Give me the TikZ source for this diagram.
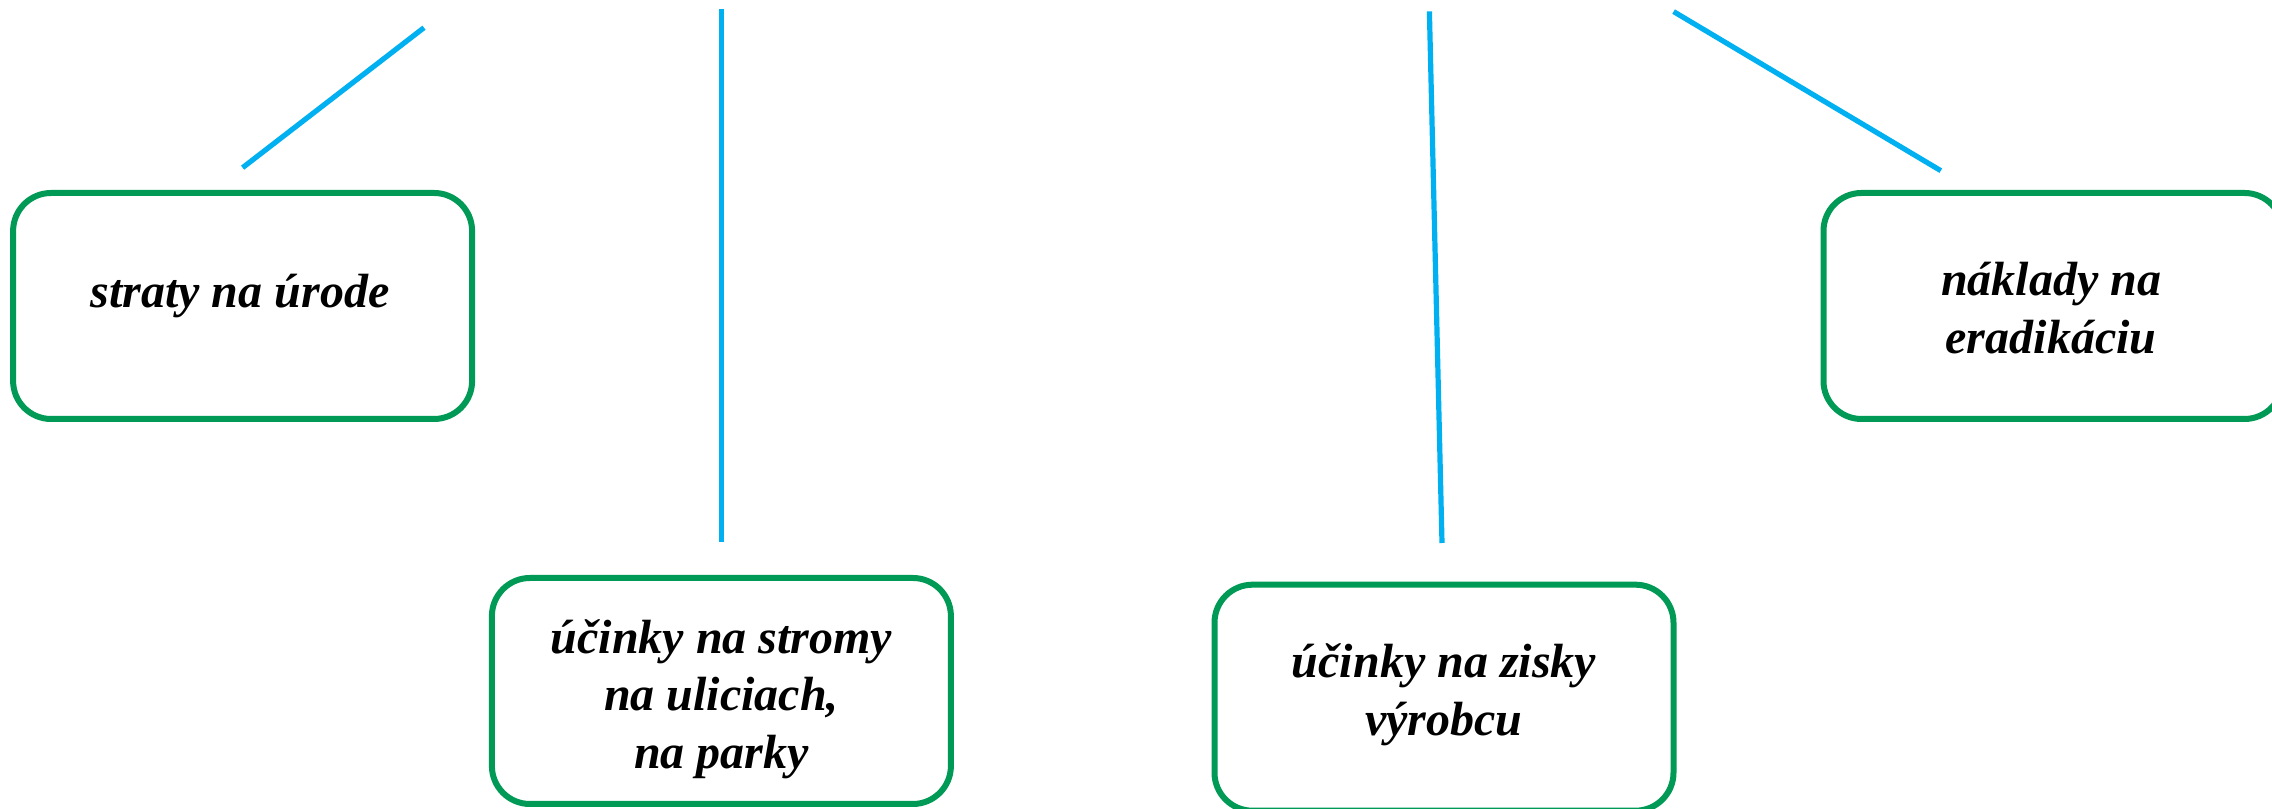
\documentclass[tikz,border=0pt]{standalone}
\usepackage{fontspec}
\setmainfont{Liberation Serif}
\definecolor{boxgreen}{RGB}{0,153,85}
\definecolor{linkblue}{RGB}{0,176,240}
\begin{document}
\begin{tikzpicture}[x=0.25pt,y=-0.25pt,
  boxnode/.style={draw=boxgreen, line width=1.5pt, rounded corners=9.5pt,
    minimum width=114.75pt, minimum height=56.5pt, inner sep=0pt},
  boxtext/.style={inner sep=0pt, align=center,
    font=\bfseries\itshape\fontsize{12}{14.4}\selectfont},
  link/.style={draw=linkblue, line width=1.3pt}]
\useasboundingbox (0,0) rectangle (2272,809);

\node[boxnode] (b1) at (242.6,306) {};
\node[boxnode] (b2) at (721.4,691) {};
\node[boxnode] (b3) at (1444,697.7) {};
\node[boxnode] (b4) at (2053,306) {};

\node[boxtext] (t1) at (240,296) {straty na úrode};
\node[boxtext] (t2) at (721.4,699) {účinky na stromy\\ na uliciach,\\ na parky};
\node[boxtext] (t3) at (1444,695) {účinky na zisky\\ výrobcu};
\node[boxtext] (t4) at (2051,308) {náklady na\\ eradikáciu};

\coordinate (l1a) at (242.6,167.7);
\coordinate (l1b) at (424,27.7);
\coordinate (l2a) at (721.5,541.8);
\coordinate (l2b) at (721.5,9.3);
\coordinate (l3a) at (1442,543);
\coordinate (l3b) at (1429.4,11.4);
\coordinate (l4a) at (1940.8,170.7);
\coordinate (l4b) at (1673.6,11.6);

\draw[link] (l1a) -- (l1b);
\draw[link] (l2a) -- (l2b);
\draw[link] (l3a) -- (l3b);
\draw[link] (l4a) -- (l4b);
\end{tikzpicture}
\end{document}
